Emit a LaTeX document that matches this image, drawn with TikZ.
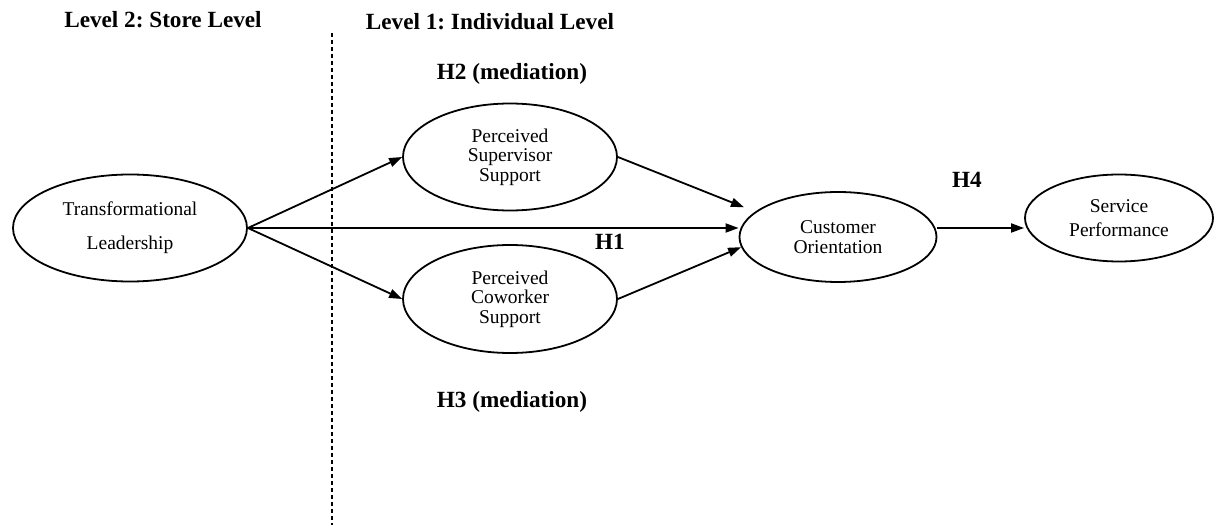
\documentclass[tikz,border=0pt]{standalone}
\usepackage{fontspec}
\setmainfont{Liberation Serif}
\usetikzlibrary{shapes.geometric, arrows.meta}
\frenchspacing

\begin{document}
\begin{tikzpicture}[x = 0.5pt, y = -0.5pt,
    construct/.style = {shape = ellipse, draw, line width = 0.9pt,
      inner sep = 0pt, align = center,
      font = \fontsize{9.75}{9.8}\selectfont},
    hyp/.style = {font = \fontsize{11.6}{14}\selectfont\bfseries},
    effect/.style = {draw, line width = 0.9pt,
      -{Triangle[length = 6.5pt, width = 4.5pt]}}]
  \useasboundingbox (0, 0) rectangle (1215, 529);

  \node [construct, minimum width = 117pt, minimum height = 53.5pt]
        (tl) at (130, 228) {Transformational\\[7pt]Leadership};
  \node [construct, minimum width = 107pt, minimum height = 53.5pt]
        (pss) at (510, 157) {Perceived\\Supervisor\\Support};
  \node [construct, minimum width = 107pt, minimum height = 54pt]
        (pcs) at (510, 299) {Perceived\\Coworker\\Support};
  \node [construct, minimum width = 98.5pt, minimum height = 45pt]
        (co) at (838, 237) {Customer\\Orientation};
  \node [construct, minimum width = 94pt, minimum height = 43.5pt]
        (sp) at (1119, 218) {Service\\[2pt]Performance};

  \foreach \id/\x/\y/\txt in {
    store/163/20/{Level 2: Store Level},
    indiv/490/22/{Level 1: Individual Level},
    h2/512/74/{H2 (mediation)},
    h1/610/242/H1,
    h4/967/180/H4,
    h3/512/402/{H3 (mediation)}
  } \node [hyp] (\id) at (\x, \y) {\txt};

  % store / individual divider
  \coordinate (div top) at (332, 33);
  \coordinate (div bot) at (332, 525);
  \draw [line width = 0.9pt, dash pattern = on 2pt off 1.5pt]
        (div top) -- (div bot);

  \draw [effect] (tl.east) -- (pss.west);
  \draw [effect] (tl.east) -- (pcs.west);
  \draw [effect] (tl.east) -- (tl.east -| co.west);
  \draw [effect, shorten > = 6pt] (pss.east) -- (co.163);
  \draw [effect] (pcs.east) -- (co.186);
  \draw [effect] (tl.east -| co.east) -- (tl.east -| sp.west);
\end{tikzpicture}
\end{document}
